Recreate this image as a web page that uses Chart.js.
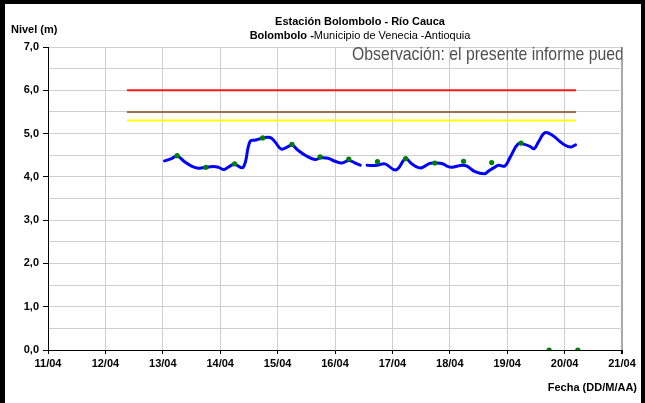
<!DOCTYPE html>
<html>
<head>
<meta charset="utf-8">
<script src="https://cdn.jsdelivr.net/npm/chart.js@4.4.1/dist/chart.umd.min.js"></script>
<style>
  html, body { margin: 0; padding: 0; background: #fff; }
  #wrap { width: 645px; height: 403px; position: relative; }
</style>
</head>
<body>
<div id="wrap"><canvas id="c" width="645" height="403"></canvas></div>
<script>
// Axis labels: one per day, from 11/04 (offset 0) to 21/04 (offset 10)
const dateLabels = ["11/04", "12/04", "13/04", "14/04", "15/04", "16/04", "17/04", "18/04", "19/04", "20/04", "21/04"];

// Continuous level record (day offset from 11/04 00:00, level in m); null marks a gap
const levelDays = [
  2.03, 2.15, 2.25, 2.38, 2.50, 2.62, 2.75, 2.88, 2.97, 3.07, 3.17, 3.25, 3.40,
  3.52, 3.62, 3.74, 3.87, 3.96, 4.07, 4.25, 4.35, 4.48, 4.65, 4.75, 4.88, 5.00,
  5.12, 5.24, 5.35, 5.44, 5.50,
  5.56, 5.64, 5.74, 5.87, 6.06, 6.23, 6.32, 6.42, 6.51, 6.65, 6.74, 6.86, 6.95,
  7.03, 7.21, 7.30, 7.44, 7.61, 7.67, 7.78, 7.85, 7.96, 8.05, 8.19, 8.30, 8.40,
  8.47, 8.55, 8.66, 8.80, 8.89, 9.01, 9.11, 9.19
];
const levelValues = [
  4.37, 4.42, 4.48, 4.35, 4.25, 4.20, 4.22, 4.24, 4.22, 4.17, 4.25, 4.29, 4.22,
  4.82, 4.85, 4.90, 4.91, 4.80, 4.64, 4.73, 4.62, 4.50, 4.40, 4.44, 4.43, 4.36,
  4.32, 4.38, 4.32, 4.27, null,
  4.27, 4.26, 4.27, 4.30, 4.16, 4.42, 4.32, 4.23, 4.21, 4.31, 4.32, 4.31, 4.25,
  4.22, 4.27, 4.25, 4.12, 4.07, 4.13, 4.22, 4.27, 4.25, 4.45, 4.76, 4.75, 4.70,
  4.65, 4.82, 5.02, 4.95, 4.85, 4.73, 4.69, 4.74
];

// Manual readings at 06:00 and 18:00
const readingDays = [2.25, 2.75, 3.25, 3.74, 4.25, 4.74, 5.24, 5.74, 6.23, 6.74, 7.24, 7.73, 8.24, 8.73, 9.23];
const readingValues = [4.49, 4.22, 4.30, 4.90, 4.75, 4.46, 4.41, 4.35, 4.42, 4.32, 4.36, 4.33, 4.78, 0.0, 0.0];

// Alert thresholds (m) and the span they are drawn over
const alertLevels = [6.0, 5.5, 5.3];
const alertColors = ["#ff1a1a", "#a07050", "#ffff00"];
const alertSpan = [1.375, 9.2];

const toPoints = (xs, ys) => xs.map((x, i) => ({ x: x, y: ys[i] }));

const datasets = [];
alertLevels.forEach((lvl, i) => {
  datasets.push({
    data: toPoints(alertSpan, [lvl, lvl]),
    borderColor: alertColors[i],
    borderWidth: 2,
    pointRadius: 0,
    tension: 0,
    order: 3
  });
});
datasets.push({
  data: toPoints(levelDays, levelValues),
  borderColor: "#0000ff",
  borderWidth: 3,
  pointRadius: 0,
  tension: 0.4,
  spanGaps: false,
  borderCapStyle: "round",
  borderJoinStyle: "round",
  order: 2
});
datasets.push({
  data: toPoints(readingDays, readingValues),
  showLine: false,
  pointRadius: 2.6,
  pointBackgroundColor: "#008000",
  pointBorderColor: "#008000",
  pointBorderWidth: 0,
  order: 1
});

// Frame, headings and note drawn around the plot
const decor = {
  id: "decor",
  beforeDraw(chart) {
    const ctx = chart.ctx;
    ctx.save();
    ctx.fillStyle = "#fff";
    ctx.fillRect(0, 0, chart.width, chart.height);
    ctx.restore();
  },
  afterDatasetsDraw(chart) {
    const ctx = chart.ctx;
    const a = chart.chartArea;
    ctx.save();
    // note text, condensed and clipped to the plot area
    ctx.beginPath();
    ctx.rect(a.left, a.top, a.right - a.left, a.bottom - a.top);
    ctx.clip();
    ctx.fillStyle = "#505050";
    ctx.font = "19px 'Liberation Sans', Arial, sans-serif";
    ctx.textBaseline = "alphabetic";
    ctx.textAlign = "left";
    ctx.translate(352, 60);
    ctx.scale(0.83, 1);
    ctx.fillText("Observación: el presente informe puede", 0, 0);
    ctx.restore();
  },
  afterDraw(chart) {
    const ctx = chart.ctx;
    ctx.save();
    ctx.fillStyle = "#000";
    ctx.textBaseline = "middle";
    ctx.font = "bold 11px 'Liberation Sans', Arial, sans-serif";
    ctx.textAlign = "center";
    ctx.fillText("Estación Bolombolo - Río Cauca", 360, 22);
    // subtitle: bold town name followed by regular text
    const p1 = "Bolombolo -";
    const p2 = "Municipio de Venecia -Antioquia";
    ctx.font = "bold 11px 'Liberation Sans', Arial, sans-serif";
    const w1 = ctx.measureText(p1).width;
    ctx.font = "11px 'Liberation Sans', Arial, sans-serif";
    const w2 = ctx.measureText(p2).width;
    const x0 = 360 - (w1 + w2) / 2;
    ctx.textAlign = "left";
    ctx.font = "bold 11px 'Liberation Sans', Arial, sans-serif";
    ctx.fillText(p1, x0, 36);
    ctx.font = "11px 'Liberation Sans', Arial, sans-serif";
    ctx.fillText(p2, x0 + w1, 36);
    // axis titles
    ctx.font = "bold 11px 'Liberation Sans', Arial, sans-serif";
    ctx.fillText("Nivel (m)", 11, 30);
    ctx.textAlign = "right";
    ctx.fillText("Fecha (DD/M/AA)", 637, 388);
    // outer frame
    ctx.fillRect(0, 0, 5, chart.height);
    ctx.fillRect(0, 0, chart.width, 4);
    ctx.fillRect(chart.width - 4, 0, 4, chart.height);
    ctx.restore();
  }
};

new Chart(document.getElementById("c"), {
  type: "line",
  data: { datasets: datasets },
  options: {
    responsive: false,
    animation: false,
    layout: { padding: { top: 47, right: 23, left: 0, bottom: 0 } },
    plugins: { legend: { display: false }, tooltip: { enabled: false } },
    scales: {
      x: {
        type: "linear",
        min: 0,
        max: 10,
        afterFit(s) { s.height = 53; },
        ticks: {
          stepSize: 1,
          autoSkip: false,
          maxRotation: 0,
          padding: 3,
          color: "#000",
          font: { family: "'Liberation Sans', Arial, sans-serif", size: 11, weight: "bold" },
          callback: (v) => dateLabels[v] ?? ""
        },
        grid: {
          color: (c) => (c.index === 10 ? "#a8a8a8" : "#cfcfcf"),
          lineWidth: (c) => (c.index === 10 ? 2 : 1),
          tickColor: "#000",
          tickLength: 4
        },
        border: { color: "#000", width: 1 }
      },
      y: {
        min: 0,
        max: 7,
        afterFit(s) { s.width = 48; },
        ticks: {
          stepSize: 0.5,
          autoSkip: false,
          padding: 4,
          color: "#000",
          font: { family: "'Liberation Sans', Arial, sans-serif", size: 11, weight: "bold" },
          callback: (v) => (Number.isInteger(v) ? v.toFixed(1).replace(".", ",") : "")
        },
        grid: {
          color: "#cfcfcf",
          lineWidth: 1,
          tickColor: (c) => (c.tick && Number.isInteger(c.tick.value) ? "#000" : "rgba(0,0,0,0)"),
          tickLength: 5
        },
        border: { color: "#000", width: 1 }
      }
    }
  },
  plugins: [decor]
});
</script>
</body>
</html>
